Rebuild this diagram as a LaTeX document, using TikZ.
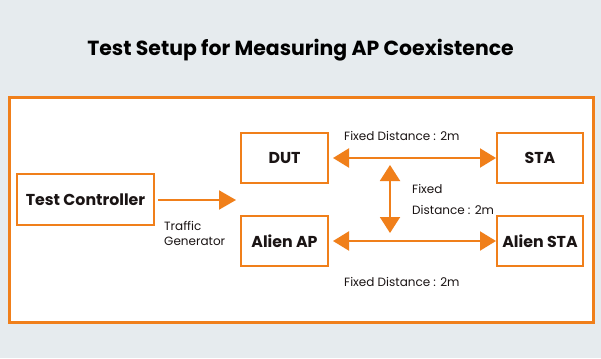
\documentclass[tikz,border=0pt]{standalone}
\usepackage{fontspec}
\setmainfont{Poppins}
\usetikzlibrary{arrows.meta}
\definecolor{bg}{HTML}{E6EBEE}
\definecolor{org}{HTML}{F07F1A}
\definecolor{ink}{HTML}{1A1414}
\tikzset{
  box/.style={draw=org, line width=2pt, fill=white, text=ink, font=\fontsize{15.8}{18}\selectfont\bfseries, inner sep=0pt},
  conn/.style={draw=org, line width=2pt},
  lbl/.style={text=ink, font=\fontsize{12}{14}\selectfont, inner sep=0pt, anchor=base west},
}
\begin{document}
\begin{tikzpicture}[x=1pt,y=-1pt]
\fill[bg] (0,0) rectangle (601,358);
\useasboundingbox (0,0) rectangle (601,358);
\node[font=\fontsize{20.4}{22}\selectfont\bfseries, text=black, anchor=base, inner sep=0pt] (title) at (300.5,55.5) {Test Setup for Measuring AP Coexistence};
\draw[draw=org, line width=3pt, fill=white] (9.5,97.5) rectangle (593.5,322.5);
\node[box, minimum width=137pt, minimum height=51pt] (tc) at (85.5,199.5) {Test Controller};
\node[box, minimum width=87pt, minimum height=50pt] (dut) at (284.5,158) {DUT};
\node[box, minimum width=87pt, minimum height=50pt] (aap) at (284.5,241) {Alien AP};
\node[box, minimum width=86pt, minimum height=50pt] (sta) at (540,158) {STA};
\node[box, minimum width=86pt, minimum height=50pt] (asta) at (540,241) {Alien STA};
\coordinate (tg) at (236,200);
\draw[conn, -{Triangle[length=17pt,width=19pt]}, shorten <=3pt] (tc.east |- tg) -- (tg);
\draw[conn, {Triangle[length=16pt,width=19pt]}-{Triangle[length=16pt,width=19pt]}, shorten <=4pt] (dut) -- (sta);
\draw[conn, {Triangle[length=16pt,width=19pt]}-{Triangle[length=16pt,width=19pt]}, shorten <=4pt] (aap) -- (asta);
\coordinate (vt) at (390,165);
\coordinate (vb) at (390,233);
\draw[conn, {Triangle[length=16pt,width=20pt]}-{Triangle[length=16pt,width=20pt]}] (vt) -- (vb);
\node[lbl] (l1) at (344,140) {Fixed Distance : 2m};
\node[lbl] (l2) at (412,193) {Fixed};
\node[lbl] (l3) at (412,214) {Distance : 2m};
\node[lbl] (l4) at (344,286) {Fixed Distance : 2m};
\node[lbl] (l5) at (164,230) {Traffic};
\node[lbl] (l6) at (164,245) {Generator};
\end{tikzpicture}
\end{document}
